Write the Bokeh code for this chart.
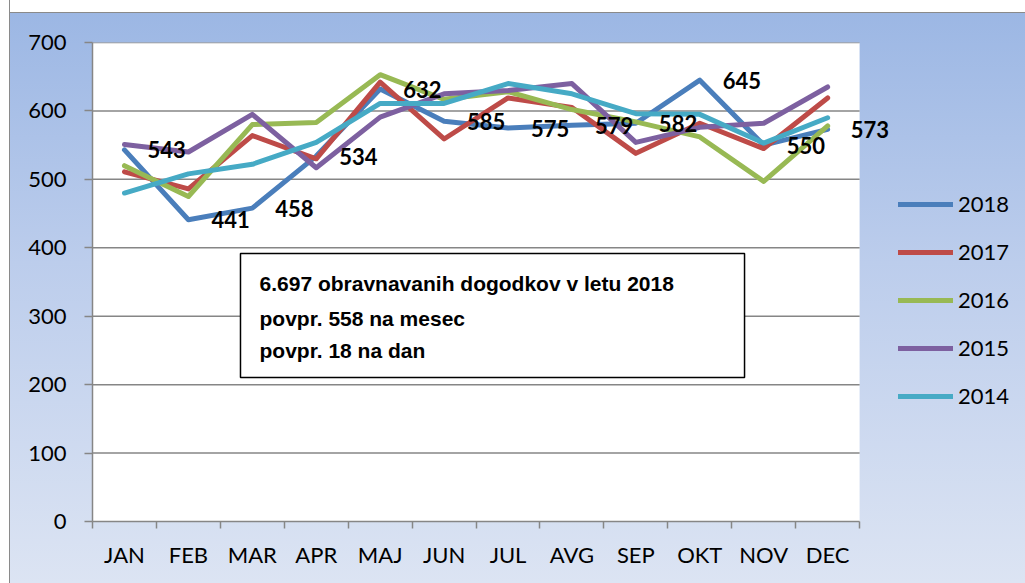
from bokeh.plotting import figure
from bokeh.models import (Range1d, FixedTicker, ColumnDataSource, Legend, LegendItem,
                          BoxAnnotation, Label, InlineStyleSheet)
from bokeh.core.properties import value
from bokeh.embed import file_html
from bokeh.resources import INLINE

months = ["JAN", "FEB", "MAR", "APR", "MAJ", "JUN", "JUL", "AVG", "SEP", "OKT", "NOV", "DEC"]
years = ["2018", "2017", "2016", "2015", "2014"]
v2018 = [543, 441, 458, 534, 632, 585, 575, 579, 582, 645, 550, 573]
v2017 = [511, 486, 564, 530, 642, 559, 619, 605, 538, 582, 545, 619]
v2016 = [520, 475, 580, 583, 653, 617, 628, 602, 584, 562, 497, 578]
v2015 = [551, 540, 595, 517, 591, 625, 630, 640, 554, 576, 582, 635]
v2014 = [480, 508, 522, 554, 611, 611, 640, 625, 596, 595, 553, 590]
series = [v2018, v2017, v2016, v2015, v2014]
colors = ["#4A7EBB", "#BE4B48", "#98B954", "#7D60A0", "#46AAC5"]
y_ticks = [0, 100, 200, 300, 400, 500, 600, 700]
info_lines = ["6.697 obravnavanih dogodkov v letu 2018",
              "povpr. 558 na mesec",
              "povpr. 18 na dan"]

n = len(months)
xs = [i + 0.5 for i in range(n)]

css = InlineStyleSheet(css=""":host {
  background:
    linear-gradient(90deg, #ffffff 0 9px, #8a8a8a 9px 10px, transparent 10px),
    linear-gradient(180deg, #ffffff 0 12px, #8a8a8a 12px 13px, transparent 13px),
    linear-gradient(180deg, #9cb7e4 13px, #bccdec 45%, #dce4f3 100%);
}""")

p = figure(width=1025, height=583, output_backend="svg", toolbar_location=None,
           x_range=Range1d(0, 14.47), y_range=Range1d(0, 700),
           min_border_left=92, min_border_right=8, min_border_top=42, min_border_bottom=62)
p.stylesheets = [css]
p.border_fill_color = None
p.background_fill_color = None
p.outline_line_color = None

# white plot area (only over the month span)
p.add_layout(BoxAnnotation(left=0, right=n, bottom=0, top=700, fill_color="white",
                           fill_alpha=1.0, line_color=None, level="image"))

# axes
p.yaxis.ticker = FixedTicker(ticks=y_ticks)
p.yaxis.axis_line_color = "#868686"
p.yaxis.axis_line_width = 1.5
p.yaxis.major_tick_line_color = "#868686"
p.yaxis.major_tick_line_width = 1.5
p.yaxis.major_tick_out = 8
p.yaxis.major_tick_in = 0
p.yaxis.minor_tick_line_color = None
p.yaxis.major_label_standoff = 18
p.yaxis.major_label_text_font = "Lato"
p.yaxis.major_label_text_font_size = "22px"
p.yaxis.major_label_text_color = "black"

p.xaxis.ticker = FixedTicker(ticks=xs, minor_ticks=list(range(n + 1)))
p.xaxis.bounds = (0, n)
p.xaxis.major_label_overrides = {x: m for x, m in zip(xs, months)}
p.xaxis.axis_line_color = "#868686"
p.xaxis.axis_line_width = 1.5
p.xaxis.major_tick_line_color = None
p.xaxis.minor_tick_line_color = "#868686"
p.xaxis.minor_tick_line_width = 1.5
p.xaxis.minor_tick_out = 7
p.xaxis.minor_tick_in = 0
p.xaxis.major_tick_out = 7
p.xaxis.major_label_standoff = 12
p.xaxis.major_label_text_font = "Lato"
p.xaxis.major_label_text_font_size = "22px"
p.xaxis.major_label_text_color = "black"

p.grid.grid_line_color = None
# horizontal grid lines limited to the month span
gl = [t for t in y_ticks if t > 0]
p.segment(x0=[0] * len(gl), x1=[n] * len(gl), y0=gl, y1=gl,
          line_color="#868686", line_width=1.5)

# lines
items = []
for yr, vals, col in zip(years, series, colors):
    src = ColumnDataSource(dict(x=xs, y=vals))
    r = p.line("x", "y", source=src, line_color=col, line_width=5,
               line_join="round", line_cap="round")
    items.append(LegendItem(label=yr, renderers=[r]))

# data labels for 2018
lab_src = ColumnDataSource(dict(x=xs, y=v2018, t=[str(v) for v in v2018]))
p.text("x", "y", text="t", source=lab_src, x_offset=23, text_align="left",
       text_baseline="middle", text_font=value("Lato"), text_font_style="bold",
       text_font_size="22px", text_color="black")

# info box
box = BoxAnnotation(left=2.315, right=10.2, top=391.6, bottom=210.4,
                    fill_color="white", fill_alpha=1.0, line_color="black",
                    line_alpha=1.0, line_width=1.5, level="overlay")
p.add_layout(box)
for txt, yy in zip(info_lines, [347.8, 296.6, 249.9]):
    p.add_layout(Label(x=2.613, y=yy, text=txt, text_font="Liberation Sans",
                       text_font_style="bold", text_font_size="21px",
                       text_baseline="middle", text_color="black", level="overlay"))

legend = Legend(items=items, location=(806, 112), orientation="vertical",
                glyph_width=55, glyph_height=20, label_height=20, label_standoff=5,
                spacing=21, padding=0, margin=0,
                label_text_font="Lato", label_text_font_size="22px",
                label_text_color="black",
                background_fill_alpha=0, border_line_color=None)
p.add_layout(legend)

open("out.html", "w").write(file_html(p, INLINE))
